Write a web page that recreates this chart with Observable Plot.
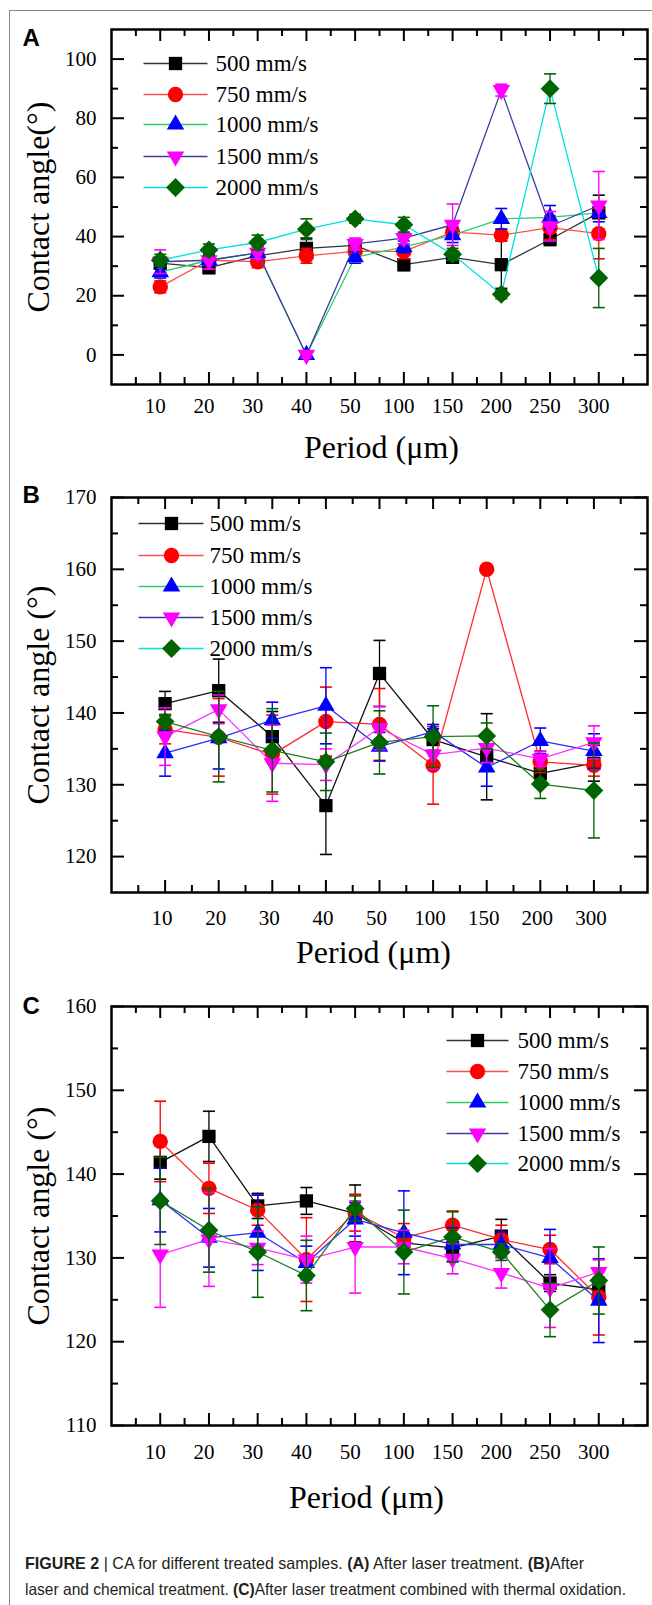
<!DOCTYPE html>
<html><head><meta charset="utf-8">
<script src="https://cdn.jsdelivr.net/npm/d3@7"></script>
<script src="https://cdn.jsdelivr.net/npm/@observablehq/plot@0.6"></script>
<style>
body{margin:0;background:#fff}
#root{position:relative;width:652px;height:1605px;overflow:hidden;background:#fff}
.panel{position:absolute;left:0}
#border{position:absolute;left:9px;top:10px;width:800px;height:1700px;border:1px solid #8a8a8a}
.cap{position:absolute;left:25px;font-family:"Liberation Sans",Arial,sans-serif;font-size:16.5px;line-height:20px;color:#231f20;white-space:nowrap;transform-origin:0 0}
</style></head>
<body><div id="root"><div id="border"></div>
<div id="pA" class="panel" style="top:0px"></div>
<div id="pB" class="panel" style="top:470px"></div>
<div id="pC" class="panel" style="top:980px"></div>
<div id="cap1" class="cap" style="top:1553px"><b>FIGURE 2</b> | CA for different treated samples. <b>(A)</b> After laser treatment. <b>(B)</b>After</div>
<div id="cap2" class="cap" style="top:1579px">laser and chemical treatment. <b>(C)</b>After laser treatment combined with thermal oxidation.</div>
</div>
<script>
// ---------- data ----------
const periodsAC = ["10","20","30","40","50","100","150","200","250","300"];
const periodsB  = ["10","20","30","40","50","100","150","200","300"];
const speeds = ["500 mm/s","750 mm/s","1000 mm/s","1500 mm/s","2000 mm/s"];

// Panel A: after laser treatment
const A500  = [31, 29.5, 33.5, 36, 37, 30.5, 33, 30.5, 39, 48];
const A500e = [2, 2, 2, 3.5, 2, 2, 2, 8, 2, 6];
const A750  = [23, 32, 31.5, 33.5, 35, 35, 41.5, 40.5, 43, 41];
const A750e = [2, 3, 2, 2.5, 2.5, 2.5, 2, 2, 4, 8.5];
const A1000  = [28, 32, 34.5, 0, 33, 36.5, 40.5, 46, 46.5, 48];
const A1000e = [2, 2, 2, 1, 2, 2, 2.5, 3.5, 4, 3];
const A1500  = [31.5, 32, 34.5, 0, 37.5, 39.5, 44, 89.5, 43.5, 50.5];
const A1500e = [4, 3, 2, 1, 2, 2, 7, 2, 5, 11.5];
const A2000  = [32, 35.5, 38, 42.5, 46, 44, 34, 20.5, 90, 26];
const A2000e = [2, 2, 2.5, 3.5, 1.5, 2.5, 2, 1.5, 5, 10];

// Panel B: after laser and chemical treatment
const B500  = [141.3, 143.1, 136.7, 127.1, 145.5, 136.3, 133.9, 131.6, 133];
const B500e = [1.7, 4.4, 3.5, 6.8, 4.6, 1.5, 6, 1, 2.5];
const B750  = [137.7, 136.6, 134.2, 138.8, 138.4, 132.7, 160, 133.2, 132.7];
const B750e = [2, 5.4, 5.5, 4.8, 5, 5.4, 0, 1.5, 1.5];
const B1000  = [134.4, 136.5, 139, 141, 135.3, 137.4, 132.4, 136.1, 134.7];
const B1000e = [3.2, 4.3, 2.5, 5.3, 2, 1, 2.6, 1.8, 2.4];
const B1500  = [136.7, 140.5, 133, 132.8, 137.9, 134.2, 135.1, 133.6, 135.9];
const B1500e = [4, 2, 5.3, 2.2, 3, 2, 2, 1, 2.3];
const B2000  = [138.8, 136.7, 134.8, 133.2, 135.9, 136.7, 136.8, 130.1, 129.2];
const B2000e = [1, 6.3, 5.8, 4, 4.4, 4.3, 1.8, 2, 6.6];

// Panel C: after laser treatment combined with thermal oxidation
const C500  = [141.4, 144.5, 136.2, 136.8, 135.3, 131.8, 131.2, 132.6, 127, 126.2];
const C500e = [2, 3, 1.5, 1.6, 3.4, 1, 1, 2, 1, 1.5];
const C750  = [143.9, 138.3, 135.7, 129.8, 135.4, 132.4, 133.9, 132.2, 131, 125.3];
const C750e = [4.8, 3, 1.8, 5, 2.2, 1.7, 1.7, 1.7, 1.7, 4.5];
const C1000  = [136.9, 132.4, 133, 129.4, 134.6, 133, 131.6, 131.6, 130, 124.9];
const C1000e = [3.8, 3.5, 4.5, 2, 2, 5, 2, 1.5, 3.4, 5];
const C1500  = [130.4, 132.2, 131.2, 129.8, 131.3, 131.3, 129.9, 128.2, 126.4, 128.3];
const C1500e = [6.3, 5.6, 2, 2.8, 5.5, 2, 1.8, 1.8, 4.7, 1.5];
const C2000  = [136.8, 133.3, 130.7, 127.9, 135.9, 130.7, 132.5, 130.7, 123.8, 127.3];
const C2000e = [5.2, 5, 5.4, 4.2, 1.5, 5, 3, 1, 3.2, 4];

// ---------- styles ----------
const markerColors = ["#000000", "#ff0000", "#0000ff", "#ff00ff", "#006400"];
const legendLineColors = ["#333333", "#ff4d4d", "#2ecc66", "#3b3b9e", "#00e0e0"];
const linesA  = legendLineColors;
const linesBC = ["#111111", "#ff2a2a", "#2b2bff", "#ff33ff", "#1f7f1f"];

const hline = {draw(ctx, size) { const w = Math.sqrt(size / Math.PI); ctx.moveTo(-w, 0); ctx.lineTo(w, 0); }};
const triDown = {draw(ctx, size) {
  const y = Math.sqrt(size / (3 * Math.sqrt(3)));
  ctx.moveTo(0, 2 * y); ctx.lineTo(-Math.sqrt(3) * y, -y); ctx.lineTo(Math.sqrt(3) * y, -y); ctx.closePath();
}};
const symbols = ["square", "circle", "triangle", triDown, "diamond2"];
const symR = [7.5, 7.7, 6.5, 6.5, 8.5];
const serif = '"Liberation Serif", "Times New Roman", serif';
const sans = '"Liberation Sans", Arial, sans-serif';

function panel(el, cfg) {
  const W = 652, mL = 111, mR = 5;
  const mT = cfg.frameTop - cfg.top, mB = cfg.top + cfg.height - cfg.frameBottom;
  const fW = W - mL - mR, fH = cfg.frameBottom - cfg.frameTop;
  const n = cfg.labels.length;
  const xMajor = d3.range(1, n + 1);
  const xMinor = d3.range(0.5, n + 1, 1);
  const marks = [];
  const tk = {stroke: "black", strokeWidth: 2};
  const tx = {fontFamily: serif, fill: "black"};
  // inward ticks on all four sides
  marks.push(Plot.ruleX(xMajor, {x: d => d, insetTop: fH - 12, ...tk}));
  marks.push(Plot.ruleX(xMinor, {x: d => d, insetTop: fH - 7, ...tk}));
  marks.push(Plot.ruleX(xMajor, {x: d => d, insetBottom: fH - 12, ...tk}));
  marks.push(Plot.ruleX(xMinor, {x: d => d, insetBottom: fH - 7, ...tk}));
  marks.push(Plot.ruleY(cfg.yMajor, {y: d => d, insetRight: fW - 13, ...tk}));
  marks.push(Plot.ruleY(cfg.yMinor, {y: d => d, insetRight: fW - 7, ...tk}));
  marks.push(Plot.ruleY(cfg.yMajor, {y: d => d, insetLeft: fW - 13, ...tk}));
  marks.push(Plot.ruleY(cfg.yMinor, {y: d => d, insetLeft: fW - 7, ...tk}));
  // tick labels
  marks.push(Plot.text(xMajor, {x: d => d, text: d => cfg.labels[d - 1], frameAnchor: "bottom", dy: cfg.tickDy, dx: cfg.tickDx, fontSize: 21, lineAnchor: "middle", ...tx}));
  marks.push(Plot.text(cfg.yMajor, {y: d => d, text: d => String(d), frameAnchor: "left", dx: -15, textAnchor: "end", fontSize: 21, lineAnchor: "middle", ...tx}));
  // axis titles
  marks.push(Plot.text([cfg.yTitle], {frameAnchor: "left", dx: 38 - mL, rotate: -90, fontSize: 32, lineAnchor: "middle", textAnchor: "middle", ...tx}));
  marks.push(Plot.text(["Period (μm)"], {frameAnchor: "bottom", dy: cfg.titleDy, dx: cfg.titleDx, fontSize: 32, lineAnchor: "middle", ...tx}));
  // panel letter
  marks.push(Plot.text([cfg.letter], {frameAnchor: "top-left", dx: 22 - mL, dy: cfg.letterY - cfg.frameTop, textAnchor: "start", lineAnchor: "middle", fontSize: 24, fontWeight: "bold", fontFamily: sans, fill: "black"}));
  // series
  cfg.series.forEach((vals, s) => {
    const errs = cfg.errors[s];
    const pts = vals.map((v, i) => ({x: i + 1, y: v, e: errs[i]}));
    const col = markerColors[s];
    marks.push(Plot.line(pts, {x: "x", y: "y", stroke: cfg.lineColors[s], strokeWidth: 1.3}));
    marks.push(Plot.ruleX(pts, {x: "x", y1: d => d.y - d.e, y2: d => d.y + d.e, stroke: col, strokeWidth: 1.3}));
    marks.push(Plot.dot(pts, {x: "x", y: d => d.y + d.e, symbol: hline, r: 6, fill: "none", stroke: col, strokeWidth: 1.6}));
    marks.push(Plot.dot(pts, {x: "x", y: d => d.y - d.e, symbol: hline, r: 6, fill: "none", stroke: col, strokeWidth: 1.6}));
    marks.push(Plot.dot(pts, {x: "x", y: "y", symbol: symbols[s], r: symR[s], fill: col, stroke: "none"}));
  });
  // legend
  const L = cfg.legend;
  speeds.forEach((name, i) => {
    const dy = L.rows[i] - cfg.frameTop;
    marks.push(Plot.dot([0], {frameAnchor: "top-left", dx: (L.x1 + L.x2) / 2 - mL, dy, symbol: hline, r: (L.x2 - L.x1) / 2, fill: "none", stroke: legendLineColors[i], strokeWidth: 1.4}));
    marks.push(Plot.dot([0], {frameAnchor: "top-left", dx: L.mx - mL, dy, symbol: symbols[i], r: symR[i], fill: markerColors[i], stroke: "none"}));
    marks.push(Plot.text([name], {frameAnchor: "top-left", dx: L.tx - mL, dy, textAnchor: "start", lineAnchor: "middle", fontSize: 23, ...tx}));
  });
  marks.push(Plot.frame({stroke: "black", strokeWidth: 2.5}));
  const chart = Plot.plot({
    width: W, height: cfg.height,
    marginLeft: mL, marginRight: mR, marginTop: mT, marginBottom: mB,
    x: {domain: [0, n + 1], axis: null},
    y: {domain: cfg.yDomain, axis: null},
    style: {fontFamily: serif, color: "black", background: "transparent", overflow: "visible"},
    marks
  });
  el.appendChild(chart);
}

panel(document.getElementById("pA"), {
  letter: "A", letterY: 38, labels: periodsAC, top: 0, height: 470, frameTop: 29, frameBottom: 384,
  yDomain: [-10, 110], yMajor: [0, 20, 40, 60, 80, 100], yMinor: [10, 30, 50, 70, 90],
  yTitle: "Contact angle(°)", tickDy: 22, tickDx: -5, titleDy: 63, titleDx: 2,
  series: [A500, A750, A1000, A1500, A2000], errors: [A500e, A750e, A1000e, A1500e, A2000e],
  lineColors: linesA,
  legend: {rows: [63, 94, 124, 156, 187], x1: 143, x2: 207, mx: 175, tx: 215}
});
panel(document.getElementById("pB"), {
  letter: "B", letterY: 495, labels: periodsB, top: 470, height: 510, frameTop: 497, frameBottom: 892,
  yDomain: [115, 170], yMajor: [120, 130, 140, 150, 160, 170], yMinor: [125, 135, 145, 155, 165],
  yTitle: "Contact angle (°)", tickDy: 26, tickDx: -3, titleDy: 60, titleDx: -6,
  series: [B500, B750, B1000, B1500, B2000], errors: [B500e, B750e, B1000e, B1500e, B2000e],
  lineColors: linesBC,
  legend: {rows: [523, 555, 586, 617, 648], x1: 138, x2: 203, mx: 171, tx: 209}
});
panel(document.getElementById("pC"), {
  letter: "C", letterY: 1006, labels: periodsAC, top: 980, height: 545, frameTop: 1006, frameBottom: 1425,
  yDomain: [110, 160], yMajor: [110, 120, 130, 140, 150, 160], yMinor: [115, 125, 135, 145, 155],
  yTitle: "Contact angle (°)", tickDy: 27, tickDx: -5, titleDy: 72, titleDx: -13,
  series: [C500, C750, C1000, C1500, C2000], errors: [C500e, C750e, C1000e, C1500e, C2000e],
  lineColors: linesBC,
  legend: {rows: [1040, 1071, 1102, 1133, 1163], x1: 446, x2: 508, mx: 477, tx: 517}
});

for (const [id, target] of [["cap1", 559], ["cap2", 601]]) {
  const el = document.getElementById(id);
  const w = el.getBoundingClientRect().width;
  if (w > 0) el.style.transform = `scaleX(${target / w})`;
}
</script>
</body></html>
